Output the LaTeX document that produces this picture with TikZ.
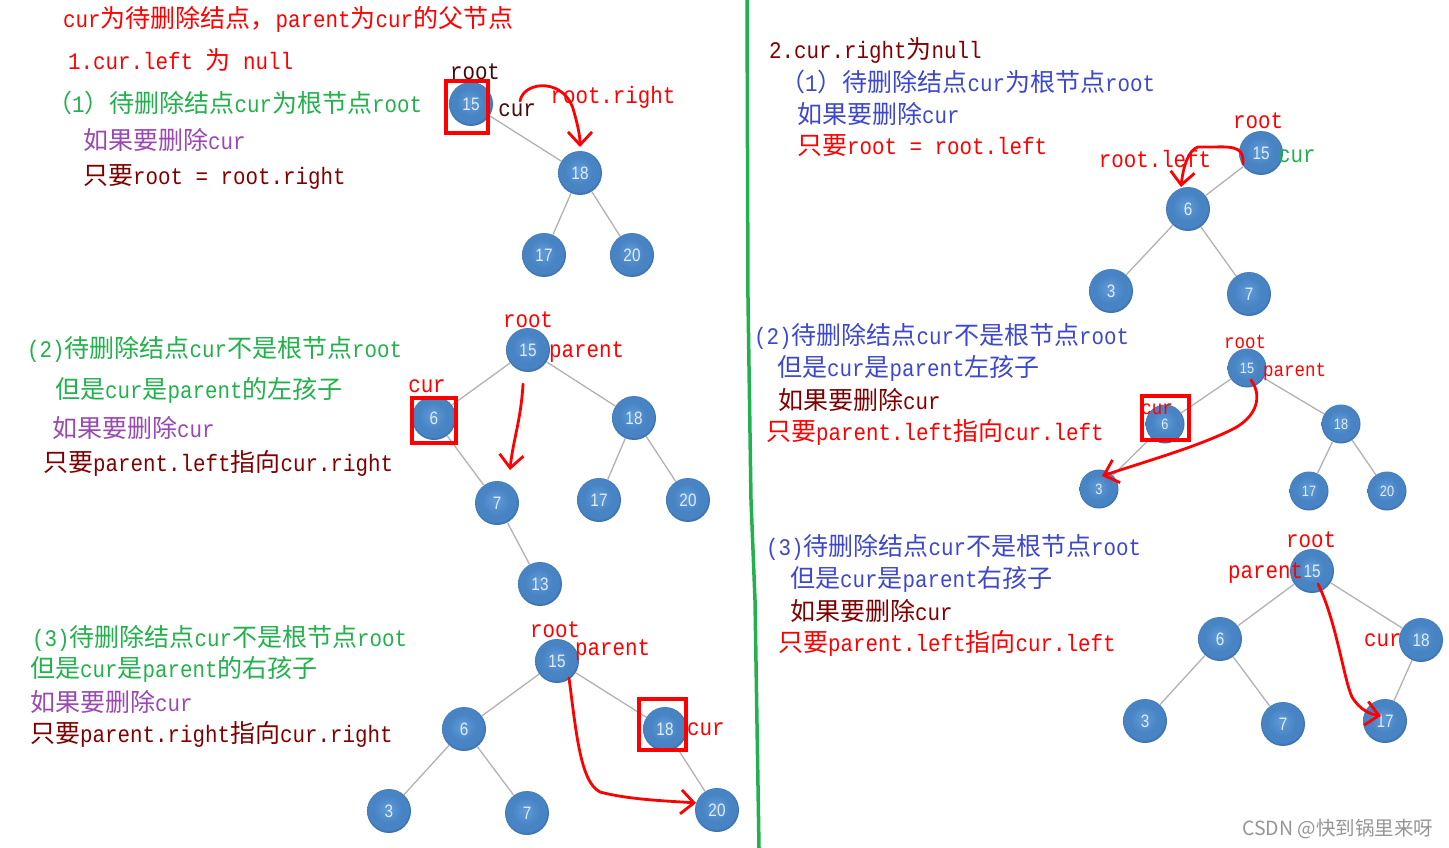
\documentclass[tikz,border=0pt]{standalone}
\usepackage{fontspec}
\setmainfont{Liberation Mono}
\newfontfamily\lat{Liberation Mono}[Scale=0.95, FakeStretch=0.877]
\newfontfamily\cjk{Noto Sans CJK SC}
\newfontfamily\numf{Liberation Sans}[FakeStretch=0.85]
\usetikzlibrary{arrows.meta}
% automatic switch between Latin (half width) and CJK fonts
\chardef\cjkcls=10
\newcount\cjkcc
\cjkcc="4E00
\loop
  \XeTeXcharclass\cjkcc=\cjkcls
  \advance\cjkcc by 1
\ifnum\cjkcc<"A000 \repeat
\XeTeXcharclass"FF08=\cjkcls
\XeTeXcharclass"FF09=\cjkcls
\XeTeXcharclass"FF0C=\cjkcls
\XeTeXinterchartoks 0 \cjkcls = {\cjk}
\XeTeXinterchartoks 4095 \cjkcls = {\cjk}
\XeTeXinterchartoks \cjkcls 0 = {\lat}
\XeTeXinterchartoks \cjkcls 4095 = {\lat}
\XeTeXinterchartokenstate=1
\definecolor{tred}{RGB}{255,0,0}
\definecolor{tgreen}{RGB}{34,177,76}
\definecolor{tpurple}{RGB}{153,72,180}
\definecolor{tmaroon}{RGB}{128,0,0}
\definecolor{tblue}{RGB}{63,72,204}
\definecolor{tdark}{RGB}{70,8,8}
\definecolor{egray}{RGB}{178,178,178}
\definecolor{vgreen}{RGB}{34,177,76}
\definecolor{wm}{RGB}{150,150,150}
\definecolor{ntx}{RGB}{228,236,246}
\definecolor{nin}{RGB}{96,156,216}
\definecolor{nmid}{RGB}{72,132,196}
\definecolor{nout}{RGB}{62,114,176}
\pgfdeclareradialshading{nball}{\pgfpoint{-2bp}{3bp}}{color(0bp)=(nin); color(16bp)=(nmid); color(23bp)=(nmid); color(25bp)=(nout); color(50bp)=(nout)}
\tikzset{
  txt/.style={anchor=west, inner sep=0pt, font=\fontsize{25}{30}\selectfont\lat},
  lbl/.style={inner sep=0pt, font=\fontsize{25}{30}\selectfont\lat},
  slbl/.style={inner sep=0pt, font=\fontsize{21}{25}\selectfont\lat},
  bn/.style={circle, minimum size=44pt, inner sep=0pt, shading=nball, text=ntx, font=\numf\fontsize{18}{18}\selectfont},
  sbn/.style={bn, minimum size=39pt, font=\numf\fontsize{15}{15}\selectfont},
  link/.style={draw=egray, line width=1.3pt},
  redbox/.style={draw=red, line width=3.5pt},
  pen/.style={draw=red, line width=2.8pt, line cap=round, line join=round, -{Straight Barb[length=13pt, width=24pt, line width=2.8pt]}},
}
\begin{document}
\begin{tikzpicture}[x=1pt, y=-1pt]
\useasboundingbox (0,0) rectangle (1449,848);
\fill[white] (0,0) rectangle (1449,848);

% divider
\draw[vgreen, line width=3.5pt] (747,0) -- (748,300) -- (751,500) -- (755,600) -- (759,848);

% ===== Panel 1 =====
\node[txt, text=tred] (t1) at (63,19) {cur为待删除结点，parent为cur的父节点};
\node[txt, text=tred] (t2) at (68,60) {1.cur.left 为 null};
\node[txt, text=tgreen] (t3) at (47,103) {（1）待删除结点cur为根节点root};
\node[txt, text=tpurple] (t4) at (83,140) {如果要删除cur};
\node[txt, text=tmaroon] (t5) at (83,177) {只要root = root.right};
\node[bn] (a15) at (471,104) {15};
\node[bn] (a18) at (580,173) {18};
\node[bn] (a17) at (544,255) {17};
\node[bn] (a20) at (632,255) {20};
\draw[link] (a15) -- (a18);
\draw[link] (a18) -- (a17);
\draw[link] (a18) -- (a20);
\node[lbl, text=tdark] (aroot) at (475,72) {root};
\node[lbl, text=tdark] (acur) at (517,110) {cur};
\node[lbl, text=tred] (aright) at (613,97) {root.right};
\draw[redbox] (446,81) rectangle (488,133);
\coordinate (a1s) at (520,101);
\coordinate (a1e) at (580,147);
\draw[pen] (a1s) .. controls (524,80) and (566,78) .. (574,112) .. controls (578,126) and (580,136) .. (a1e);

% ===== Panel 2 =====
\node[txt, text=tgreen] (u1) at (27,349) {(2)待删除结点cur不是根节点root};
\node[txt, text=tgreen] (u2) at (55,390) {但是cur是parent的左孩子};
\node[txt, text=tpurple] (u3) at (52,428) {如果要删除cur};
\node[txt, text=tmaroon] (u4) at (43,463) {只要parent.left指向cur.right};
\node[bn] (b15) at (528,350) {15};
\node[bn] (b6) at (434,418) {6};
\node[bn] (b18) at (634,418) {18};
\node[bn] (b7) at (497,503) {7};
\node[bn] (b17) at (599,500) {17};
\node[bn] (b20) at (688,500) {20};
\node[bn] (b13) at (540,584) {13};
\draw[link] (b15) -- (b6);
\draw[link] (b15) -- (b18);
\draw[link] (b6) -- (b7);
\draw[link] (b7) -- (b13);
\draw[link] (b18) -- (b17);
\draw[link] (b18) -- (b20);
\node[lbl, text=tred] (broot) at (528,320) {root};
\node[lbl, text=tred, anchor=west] (bpar) at (549,352) {parent};
\node[lbl, text=tred] (bcur) at (427,386) {cur};
\draw[redbox] (412,398) rectangle (456,443);
\coordinate (b2s) at (523,384);
\coordinate (b2e) at (510,470);
\draw[pen] (b2s) .. controls (521,420) and (513,440) .. (b2e);

% ===== Panel 3 =====
\node[txt, text=tgreen] (v1) at (32,638) {(3)待删除结点cur不是根节点root};
\node[txt, text=tgreen] (v2) at (30,669) {但是cur是parent的右孩子};
\node[txt, text=tpurple] (v3) at (30,702) {如果要删除cur};
\node[txt, text=tmaroon] (v4) at (30,734) {只要parent.right指向cur.right};
\node[bn] (c15) at (557,661) {15};
\node[bn] (c6) at (464,729) {6};
\node[bn] (c18) at (665,729) {18};
\node[bn] (c3) at (389,811) {3};
\node[bn] (c7) at (527,813) {7};
\node[bn] (c20) at (717,810) {20};
\draw[link] (c15) -- (c6);
\draw[link] (c15) -- (c18);
\draw[link] (c6) -- (c3);
\draw[link] (c6) -- (c7);
\draw[link] (c18) -- (c20);
\node[lbl, text=tred] (croot) at (555,630) {root};
\node[lbl, text=tred, anchor=west] (cpar) at (575,650) {parent};
\node[lbl, text=tred, anchor=west] (ccur) at (687,729) {cur};
\draw[redbox] (639,699) rectangle (686,750);
\coordinate (c3s) at (569,678);
\coordinate (c3e) at (696,803);
\draw[pen] (c3s) .. controls (576,730) and (580,782) .. (600,792) .. controls (630,800) and (670,801) .. (c3e);

% ===== Panel 4 =====
\node[txt, text=tmaroon] (w1) at (769,50) {2.cur.right为null};
\node[txt, text=tblue] (w2) at (780,82) {（1）待删除结点cur为根节点root};
\node[txt, text=tblue] (w3) at (797,114) {如果要删除cur};
\node[txt, text=tred] (w4) at (797,146) {只要root = root.left};
\node[bn] (d15) at (1261,153) {15};
\node[bn] (d6) at (1188,209) {6};
\node[bn] (d3) at (1111,291) {3};
\node[bn] (d7) at (1249,294) {7};
\draw[link] (d15) -- (d6);
\draw[link] (d6) -- (d3);
\draw[link] (d6) -- (d7);
\node[lbl, text=tred] (droot) at (1258,121) {root};
\node[lbl, text=tgreen, anchor=west] (dcur) at (1278,156) {cur};
\node[lbl, text=tred] (dleft) at (1155,159) {root.left};
\coordinate (d4s) at (1243,164);
\coordinate (d4e) at (1181,187);
\draw[pen] (d4s) .. controls (1244,150) and (1238,146) .. (1215,147) -- (1198,147) .. controls (1188,150) and (1183,168) .. (d4e);

% ===== Panel 5 =====
\node[txt, text=tblue] (x1) at (754,336) {(2)待删除结点cur不是根节点root};
\node[txt, text=tblue] (x2) at (777,368) {但是cur是parent左孩子};
\node[txt, text=tmaroon] (x3) at (778,400) {如果要删除cur};
\node[txt, text=tred] (x4) at (766,432) {只要parent.left指向cur.left};
\node[sbn] (e15) at (1247,368) {15};
\node[sbn] (e6) at (1165,424) {6};
\node[sbn] (e18) at (1341,424) {18};
\node[sbn] (e3) at (1099,489) {3};
\node[sbn] (e17) at (1309,491) {17};
\node[sbn] (e20) at (1387,491) {20};
\draw[link] (e15) -- (e6);
\draw[link] (e15) -- (e18);
\draw[link] (e6) -- (e3);
\draw[link] (e18) -- (e17);
\draw[link] (e18) -- (e20);
\node[slbl, text=tred] (eroot) at (1245,342) {root};
\node[slbl, text=tred, anchor=west] (epar) at (1263,372) {parent};
\node[slbl, text=tred] (ecur) at (1157,409) {cur};
\draw[redbox] (1142,396) rectangle (1189,440);
\coordinate (e5s) at (1251,380);
\coordinate (e5e) at (1102,476);
\draw[pen] (e5s) .. controls (1262,395) and (1258,415) .. (1235,428) .. controls (1200,446) and (1150,460) .. (e5e);

% ===== Panel 6 =====
\node[txt, text=tblue] (y1) at (766,547) {(3)待删除结点cur不是根节点root};
\node[txt, text=tblue] (y2) at (790,579) {但是cur是parent右孩子};
\node[txt, text=tmaroon] (y3) at (790,611) {如果要删除cur};
\node[txt, text=tred] (y4) at (778,643) {只要parent.left指向cur.left};
\node[bn] (f15) at (1312,571) {15};
\node[bn] (f6) at (1220,639) {6};
\node[bn] (f18) at (1421,640) {18};
\node[bn] (f3) at (1145,721) {3};
\node[bn] (f7) at (1283,724) {7};
\node[bn] (f17) at (1385,721) {17};
\draw[link] (f15) -- (f6);
\draw[link] (f15) -- (f18);
\draw[link] (f6) -- (f3);
\draw[link] (f6) -- (f7);
\draw[link] (f18) -- (f17);
\node[lbl, text=tred] (froot) at (1311,540) {root};
\node[lbl, text=tred, anchor=west] (fpar) at (1228,573) {parent};
\node[lbl, text=tred, anchor=west] (fcur) at (1364,640) {cur};
\coordinate (f6s) at (1318,584);
\coordinate (f6e) at (1381,716);
\draw[pen] (f6s) .. controls (1336,620) and (1344,680) .. (1352,697) .. controls (1360,710) and (1370,714) .. (f6e);

% watermark
\node[anchor=west, inner sep=0pt, text=wm, font=\fontsize{19.5}{21}\selectfont\cjk] (wmk) at (1242,829) {CSDN @快到锅里来呀};
\end{tikzpicture}
\end{document}
